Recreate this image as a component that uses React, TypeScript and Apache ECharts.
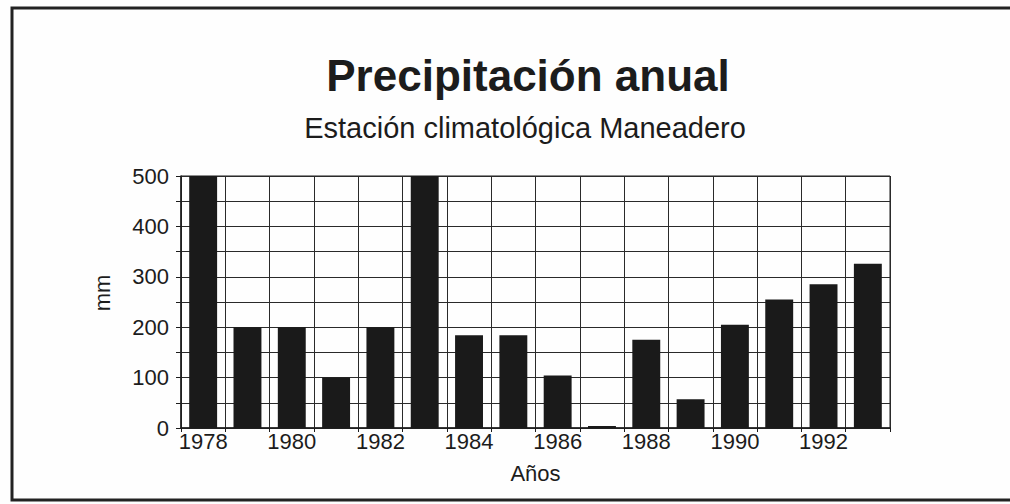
import React, { useEffect, useRef } from "react";
import * as echarts from "echarts";

const years = ["1978","1979","1980","1981","1982","1983","1984","1985","1986","1987","1988","1989","1990","1991","1992","1993"];
const rainfall = [500, 200, 200, 100, 200, 500, 184, 184, 104, 4, 175, 57, 205, 255, 285, 326];
const titleText = "Precipitación anual";
const subtitleText = "Estación climatológica Maneadero";
const yName = "mm";
const xName = "Años";

const FONT = "'Liberation Sans', Arial, Helvetica, sans-serif";
const INK = "#1c1c1c";

export default function App() {
  const ref = useRef<HTMLDivElement>(null);
  useEffect(() => {
    if (!ref.current) return;
    const chart = echarts.init(ref.current, undefined, { renderer: "svg" });
    chart.setOption({
      animation: false,
      backgroundColor: "#fefefe",
      title: [
        {
          text: titleText,
          left: 523,
          top: 48,
          textAlign: "center",
          textStyle: { fontFamily: FONT, fontSize: 44, fontWeight: "bold", color: INK },
        },
        {
          text: subtitleText,
          left: 520,
          top: 108,
          textAlign: "center",
          textStyle: { fontFamily: FONT, fontSize: 29, fontWeight: "normal", color: INK },
        },
      ],
      graphic: [
        {
          type: "polyline",
          shape: { points: [[1200, 8], [12, 8], [12, 500], [1200, 500]] },
          style: { fill: "none", stroke: "#222", lineWidth: 3 },
          silent: true,
        },
      ],
      grid: {
        left: 181,
        right: 120,
        top: 176,
        bottom: 76,
        show: true,
        borderColor: INK,
        borderWidth: 1,
        backgroundColor: "transparent",
      },
      xAxis: {
        type: "category",
        data: years,
        boundaryGap: true,
        name: xName,
        nameLocation: "middle",
        nameGap: 34,
        nameTextStyle: { fontFamily: FONT, fontSize: 22, color: INK },
        axisLine: { show: true, lineStyle: { color: INK, width: 1.5 } },
        axisTick: { show: true, interval: 0, length: 4, lineStyle: { color: INK } },
        axisLabel: { interval: 1, fontFamily: FONT, fontSize: 22, color: INK, margin: 2 },
        splitLine: { show: true, interval: 0, lineStyle: { color: "#2a2a2a", width: 1 } },
      },
      yAxis: {
        type: "value",
        min: 0,
        max: 500,
        interval: 100,
        name: yName,
        nameLocation: "middle",
        nameGap: 68,
        nameRotate: 90,
        nameTextStyle: { fontFamily: FONT, fontSize: 22, color: INK, padding: [0, 0, 0, 18] },
        axisLine: { show: true, lineStyle: { color: INK, width: 1.5 } },
        axisTick: { show: true, length: 5, lineStyle: { color: INK } },
        minorTick: { show: true, splitNumber: 2, length: 5, lineStyle: { color: INK } },
        axisLabel: { fontFamily: FONT, fontSize: 22, color: INK, margin: 12, padding: [0, 0, 6, 0] },
        splitLine: { show: true, lineStyle: { color: "#2a2a2a", width: 1 } },
        minorSplitLine: { show: true, lineStyle: { color: "#2a2a2a", width: 1 } },
      },
      series: [
        {
          type: "bar",
          data: rainfall,
          barCategoryGap: "37%",
          itemStyle: { color: "#1a1a1a" },
        },
      ],
    });
    return () => chart.dispose();
  }, []);
  return (
    <div
      ref={ref}
      style={{ position: "absolute", left: 0, top: 0, width: 1010, height: 504 }}
    />
  );
}
